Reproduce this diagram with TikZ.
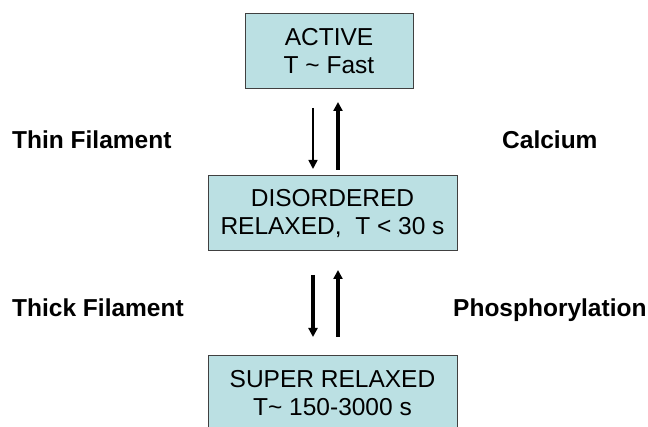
\documentclass[tikz,border=0pt]{standalone}
\usepackage{fontspec}
\setmainfont{Liberation Sans}
\usetikzlibrary{arrows.meta}
\definecolor{boxfill}{RGB}{187,224,227}
\definecolor{boxline}{RGB}{64,64,64}
\tikzset{
  statebox/.style={draw=boxline, line width=1pt, fill=boxfill, minimum height=75pt,
    align=center, inner sep=0pt, font=\fontsize{24.5}{28}\selectfont},
  sidelabel/.style={anchor=base west, inner sep=0pt, font=\fontsize{24.5}{28}\selectfont\bfseries},
  arr/.style={-{Triangle[length=9pt,width=9pt]}, black},
}
\begin{document}
\begin{tikzpicture}[x=1pt,y=1pt]
\useasboundingbox (0,0) rectangle (648,427);
\clip (0,0) rectangle (648,427);
\fill[white] (0,0) rectangle (648,427);
\node[statebox, minimum width=168pt] (active) at (329,375.5) {ACTIVE\\T \textasciitilde{} Fast};
\node[statebox, minimum width=249pt] (disord) at (332.5,213.5) {DISORDERED\\RELAXED,\ \ T < 30 s};
\node[statebox, minimum width=249pt] (super) at (332.5,33.5) {SUPER RELAXED\\T\textasciitilde{} 150-3000 s};

\node[sidelabel] (thin) at (12,278) {Thin Filament};
\node[sidelabel] (calc) at (502,278) {Calcium};
\node[sidelabel] (thick) at (12,110) {Thick Filament};
\node[sidelabel] (phos) at (453,110) {Phosphorylation};

\coordinate (d1s) at (313,319);
\coordinate (d1e) at (313,258);
\coordinate (u1s) at (338,257);
\coordinate (u1e) at (338,325);
\coordinate (d2s) at (313,152);
\coordinate (d2e) at (313,90);
\coordinate (u2s) at (338,90);
\coordinate (u2e) at (338,157);
\draw[arr, line width=1.7pt] (d1s) -- (d1e);
\draw[arr, line width=3.2pt] (u1s) -- (u1e);
\draw[arr, line width=3.1pt] (d2s) -- (d2e);
\draw[arr, line width=3.2pt] (u2s) -- (u2e);
\end{tikzpicture}
\end{document}
